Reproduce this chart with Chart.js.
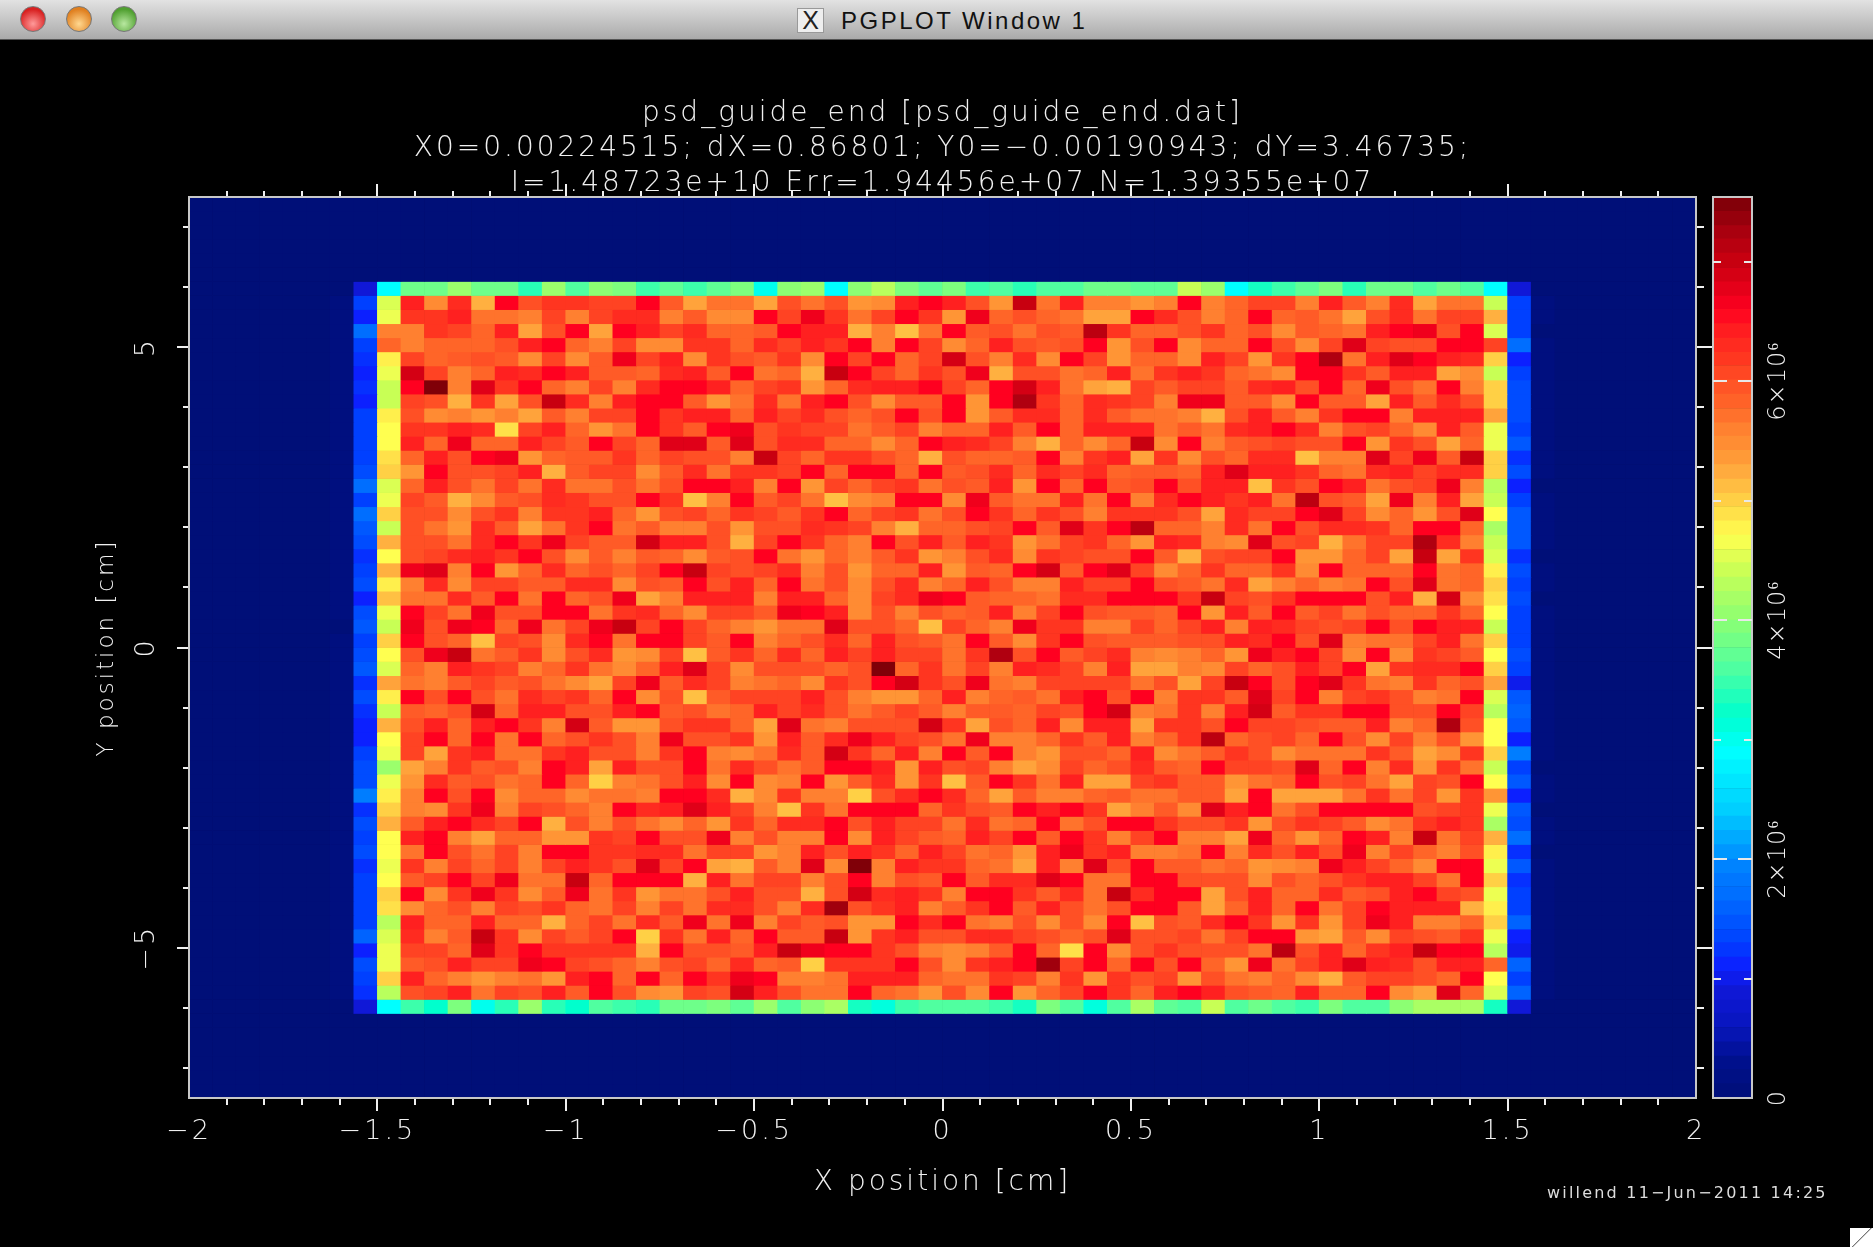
<!DOCTYPE html>
<html>
<head>
<meta charset="utf-8">
<title>PGPLOT Window 1</title>
<script src="https://cdn.jsdelivr.net/npm/chart.js@4"></script>
<style>
html, body { margin: 0; padding: 0; background: #000; }
#page { position: relative; width: 1873px; height: 1247px; overflow: hidden; background: #000; }
canvas { position: absolute; top: 0; }
#titlebar { position: absolute; left: 0; top: 0; width: 1873px; height: 39px; border-bottom: 1px solid #555;
    background: linear-gradient(#e2e2e2, #aaaaaa); }
.light { position: absolute; top: 6px; width: 26px; height: 26px; border-radius: 13px; box-sizing: border-box; border: 1px solid #777; }
#wintitle { position: absolute; left: 841px; top: 7px; font: 24px "Liberation Sans"; letter-spacing: 2.5px; color: #111; white-space: nowrap; }
#xicon { position: absolute; left: 797px; top: 8px; width: 27px; height: 25px; background: #eee; border: 1px solid #999; box-sizing: border-box;
    font: 25px/23px "Liberation Sans"; text-align: center; color: #222; }
#stamp { position: absolute; left: 1547px; top: 1183px; font: 16px "DejaVu Sans"; letter-spacing: 2.2px; color: #ddd; white-space: nowrap; }
#grip { position: absolute; left: 1850px; top: 1228px; width: 23px; height: 19px;
    background: linear-gradient(135deg, #fff 48%, #777 50%, #fff 54%); }
</style>
</head>
<body>
<div id="page">
    <canvas id="graph" style="left:0" width="1873" height="1247"></canvas>
    <canvas id="colorbar" style="left:1700px" width="173" height="1247"></canvas>
    <div id="titlebar">
        <div class="light" style="left:20px;background:radial-gradient(circle at 50% 70%,#ff9a9a,#d82020 70%)"></div>
        <div class="light" style="left:66px;background:radial-gradient(circle at 50% 70%,#ffd890,#e08020 70%)"></div>
        <div class="light" style="left:111px;background:radial-gradient(circle at 50% 70%,#b8e8a0,#50a030 70%)"></div>
        <div id="xicon">X</div>
        <div id="wintitle">PGPLOT Window 1</div>
    </div>
    <div id="stamp">willend 11−Jun−2011 14:25</div>
    <div id="grip"></div>
</div>
<script>
// Title lines
var titleLines = [
    'psd_guide_end [psd_guide_end.dat]',
    'X0=0.00224515; dX=0.86801; Y0=−0.00190943; dY=3.46735;',
    'I=1.48723e+10 Err=1.94456e+07 N=1.39355e+07'
];
var xLabel = 'X position [cm]';
var yLabel = 'Y position [cm]';
var colorbarLabels = { 0: '0', 20: '2×10⁶', 40: '4×10⁶', 60: '6×10⁶' };
var yTickValues = [-7, -6, -5, -4, -3, -2, -1, 0, 1, 2, 3, 4, 5, 6, 7];

// Histogram frame: 64 x 64 bins
var xRange = [-2, 2];
var yRange = [-7.5, 7.5];
var binCount = 64;
var firstFilledBin = 6;

// Intensity per bin, in units of 10^5.
// One list per row from the top, columns 6 to 57 of the 64.
var row06 = [0,9,29, 38,38,41,38,38,34,41,36,40,39,35,37,35,37,39,30, 40,41,29,40,43,39,37,39,35,36,34,36,36,38,38,37, 37,44,41,29,33,35,37,39,34,38,38,36,38,36, 29,9,0];
var row07 = [1,13,45, 64,55,63,52,66,60,62,62,61,61,66,59,53,57,57,53, 60,57,60,54,55,64,66,64,60,54,70,57,64,56,56,54, 56,66,56,58,61,61,56,64,59,56,63,53,57,57, 44,13,1];
var row08 = [1,11,46, 62,62,64,57,57,56,61,56,61,63,63,56,59,55,55,66, 61,67,62,57,61,66,62,54,67,58,60,58,57,53,53,66, 63,60,56,58,66,58,59,57,53,60,63,57,61,61, 52,13,1];
var row09 = [1,17,56, 56,62,61,58,64,53,60,66,53,66,64,61,63,58,58,59, 66,64,64,52,56,51,57,66,59,60,57,60,59,71,62,58, 58,60,62,58,60,55,59,58,57,64,66,67,60,66, 45,13,0];
var row10 = [1,13,58, 56,58,58,58,60,64,66,58,56,61,55,55,62,62,58,63, 61,64,62,66,56,66,61,55,58,64,60,59,60,66,54,60, 66,55,58,58,66,60,55,61,68,61,60,60,66,66, 61,17,1];
var row11 = [1,12,48, 61,58,59,60,59,55,61,55,59,67,61,64,55,62,60,59, 62,55,66,61,66,58,61,69,60,56,63,55,66,61,54,58, 58,55,64,61,54,62,66,72,57,64,68,66,64,63, 50,11,1];
var row12 = [1,11,46, 69,61,56,58,64,63,66,64,59,59,58,63,64,59,66,57, 58,52,70,66,61,58,62,60,67,52,60,60,57,58,64,57, 62,64,62,58,57,55,66,66,62,59,64,64,53,55, 44,13,1];
var row13 = [1,12,44, 66,75,56,68,62,66,58,56,61,56,63,66,66,64,58,61, 62,54,58,63,64,64,66,61,58,66,69,64,57,53,52,61, 59,61,61,59,63,64,60,66,58,67,60,57,66,56, 50,14,1];
var row14 = [1,11,44, 61,60,52,62,53,60,70,63,56,64,66,66,59,54,57,63, 57,64,66,60,55,59,59,66,54,66,72,62,58,63,62,61, 56,67,67,59,59,55,66,59,59,53,64,59,63,60, 50,14,1];
var row15 = [1,13,48, 60,55,56,54,56,53,59,56,61,61,66,62,64,64,58,64, 61,63,60,58,60,66,60,66,54,59,63,63,58,63,59,57, 57,56,52,60,64,59,56,62,66,66,56,64,64,64, 53,14,1];
var row16 = [1,13,47, 62,62,64,63,49,61,64,58,54,57,66,62,59,66,67,60, 62,61,61,57,59,61,56,58,58,64,59,66,58,64,64,64, 57,59,57,63,64,66,63,56,60,61,58,55,64,59, 46,13,1];
var row17 = [1,13,47, 64,58,67,58,58,64,61,59,66,61,58,68,68,59,68,60, 63,63,58,58,55,58,66,64,63,61,56,52,58,55,58,70, 55,66,56,59,60,61,60,60,66,54,62,60,53,58, 46,15,1];
var row18 = [1,13,49, 58,64,60,66,67,54,58,59,59,62,58,61,60,60,56,70, 61,58,62,62,60,58,52,60,58,58,59,66,56,62,64,53, 62,55,60,58,63,63,51,56,56,68,61,67,59,70, 50,12,1];
var row19 = [1,14,50, 54,66,60,60,61,64,52,59,61,61,55,59,63,57,62,62, 61,66,58,66,66,58,66,59,60,63,58,63,61,63,58,59, 59,58,64,68,64,64,62,58,57,63,64,61,63,63, 50,14,1];
var row20 = [1,17,45, 58,64,60,57,61,57,63,57,57,60,57,60,66,66,64,56, 66,54,61,58,61,62,57,60,59,64,54,66,58,66,59,60, 66,60,64,64,51,62,60,66,64,57,60,61,67,56, 43,11,0];
var row21 = [1,13,46, 61,59,52,55,59,60,63,62,60,60,66,62,51,56,66,59, 61,57,51,55,56,66,66,55,67,59,57,57,64,57,66,56, 63,66,64,62,64,57,71,60,59,53,67,56,64,53, 44,13,1];
var row22 = [1,17,50, 60,60,55,60,62,56,62,62,64,58,54,60,61,58,62,61, 59,62,66,58,61,62,57,60,66,62,58,62,60,56,62,62, 62,60,53,63,61,61,66,68,61,55,58,54,60,68, 47,15,1];
var row23 = [1,15,44, 60,57,54,63,59,53,57,62,66,57,59,56,56,60,54,60, 60,63,62,61,56,52,58,58,60,61,66,59,68,62,66,71, 58,58,56,63,57,66,60,63,63,62,58,66,66,58, 42,15,1];
var row24 = [1,14,52, 60,60,57,63,66,62,67,61,59,59,69,64,64,60,52,61, 66,62,58,56,66,60,64,59,64,62,54,57,61,62,58,54, 64,63,56,55,68,60,61,52,57,61,61,72,63,56, 44,15,1];
var row25 = [1,12,47, 60,61,63,64,62,66,60,55,59,56,59,58,55,59,60,66, 57,54,58,56,59,62,54,56,60,63,55,62,61,60,60,66, 59,52,60,61,61,66,54,54,58,61,53,70,53,62, 45,12,0];
var row26 = [1,13,52, 67,68,56,66,54,58,63,58,60,58,61,66,70,61,60,61, 63,56,60,54,58,58,64,54,59,58,66,69,59,66,68,61, 55,58,62,58,58,62,55,66,58,58,58,66,57,58, 48,14,1];
var row27 = [1,14,48, 56,63,55,61,61,59,59,63,63,55,60,59,66,60,64,58, 66,57,60,55,60,63,56,58,64,60,56,56,64,61,61,66, 60,59,57,63,53,56,58,56,57,66,60,68,57,58, 50,13,1];
var row28 = [1,11,51, 57,57,63,59,66,57,66,58,60,67,53,56,64,64,64,56, 64,64,58,55,61,63,67,66,59,58,58,57,63,63,66,66, 66,62,70,61,60,62,66,66,66,60,64,52,69,55, 49,14,0];
var row29 = [1,14,46, 66,61,57,67,60,60,66,66,57,62,63,58,55,61,61,59, 67,66,64,55,60,56,60,58,59,64,56,61,66,60,59,59, 58,66,54,64,59,66,59,61,57,60,58,58,62,58, 47,13,1];
var row30 = [0,15,44, 67,60,67,66,58,67,57,61,67,70,61,66,61,58,56,54, 57,57,68,60,60,58,51,61,58,56,67,62,62,56,56,61, 58,61,64,56,64,63,61,60,61,66,60,66,64,64, 44,13,1];
var row31 = [1,13,50, 66,60,58,51,61,60,55,63,66,57,66,66,61,59,66,56, 58,60,63,58,64,60,59,57,66,59,55,62,66,60,59,59, 59,60,60,64,63,66,60,68,56,57,57,61,64,57, 50,13,1];
var row32 = [1,14,47, 60,67,70,57,59,62,55,60,63,54,55,61,51,59,62,58, 63,58,64,61,64,61,61,57,62,72,60,66,59,61,63,56, 55,56,58,54,67,64,66,61,55,66,55,62,61,59, 47,14,1];
var row33 = [1,15,45, 58,56,64,62,61,56,58,62,57,55,58,64,68,61,55,60, 60,60,58,60,75,58,62,57,61,56,64,63,61,56,64,53, 53,56,55,61,58,60,64,61,66,53,62,63,63,66, 50,13,1];
var row34 = [1,12,53, 57,56,59,61,59,60,57,55,53,61,67,59,63,61,56,57, 58,55,62,60,66,69,62,60,67,57,56,61,61,61,61,57, 60,53,61,70,66,60,66,68,62,57,56,62,58,60, 53,10,1];
var row35 = [1,14,48, 66,60,66,60,57,63,61,62,58,66,55,60,51,59,61,61, 61,64,60,56,54,54,58,64,56,58,59,57,64,66,60,66, 56,62,62,59,68,61,66,56,61,62,60,56,57,66, 45,15,1];
var row36 = [1,12,44, 59,58,60,69,58,64,64,60,60,64,66,59,60,57,58,64, 61,63,60,57,59,61,59,56,59,59,58,61,60,66,69,56, 57,62,56,64,69,59,62,62,66,66,60,60,66,61, 43,16,1];
var row37 = [1,11,52, 60,64,58,64,66,62,56,69,59,54,54,60,62,62,58,53, 68,57,56,60,60,60,69,62,53,60,58,64,55,64,64,53, 62,62,60,66,61,61,60,59,59,64,56,58,72,60, 47,15,1];
var row38 = [1,11,47, 61,66,58,66,57,66,58,60,62,60,56,67,60,60,62,54, 64,59,63,67,64,61,60,57,67,56,56,58,62,59,64,56, 58,62,71,58,60,61,58,66,60,55,61,56,60,54, 47,11,1];
var row39 = [1,13,46, 61,53,62,64,57,57,62,64,60,60,56,62,66,56,55,57, 63,59,69,62,58,64,56,66,59,66,56,54,60,60,58,64, 55,57,59,62,60,55,57,57,57,62,59,53,55,62, 50,19,1];
var row40 = [1,14,41, 53,56,62,59,60,56,66,64,53,64,60,60,66,57,63,60, 57,59,66,66,64,54,64,60,61,56,53,55,61,58,60,63, 59,58,66,61,61,60,68,58,66,56,63,54,62,57, 44,13,0];
var row41 = [1,14,46, 54,63,59,60,57,58,66,58,50,56,57,60,64,55,66,55, 56,66,54,59,63,54,62,51,59,66,62,57,64,53,53,61, 62,59,59,54,57,58,66,60,61,57,53,61,60,66, 47,15,1];
var row42 = [1,19,48, 56,66,60,66,55,58,58,55,57,57,56,66,66,63,52,55, 62,56,56,50,60,63,66,63,58,53,59,56,56,58,59,57, 57,59,59,53,66,53,53,53,57,62,57,61,54,62, 54,11,1];
var row43 = [1,12,50, 56,55,62,67,56,61,60,58,56,66,63,64,68,64,61,56, 51,62,57,66,66,66,58,62,60,59,66,64,66,62,53,56, 59,55,68,64,66,57,60,66,66,66,66,60,61,62, 46,15,0];
var row44 = [1,14,52, 59,64,66,63,61,66,52,60,56,60,57,55,58,54,62,58, 63,63,66,60,64,61,61,57,63,57,58,66,57,60,66,66, 62,60,60,62,54,60,62,61,59,55,57,62,64,62, 42,14,1];
var row45 = [1,13,47, 64,66,56,53,58,58,54,54,62,61,66,60,60,67,56,60, 56,56,66,55,64,61,59,58,64,61,66,59,66,62,56,61, 66,56,56,53,67,58,54,58,66,64,56,70,57,61, 52,17,1];
var row46 = [1,14,47, 57,66,60,57,61,56,66,66,62,62,63,63,57,61,61,54, 56,64,60,64,62,58,64,61,57,58,54,64,67,62,64,56, 56,57,66,56,63,60,64,60,67,56,61,58,56,60, 48,12,0];
var row47 = [1,12,46, 62,56,61,58,61,56,61,64,62,60,68,61,66,53,52,59, 56,68,55,75,56,64,62,62,58,57,53,64,56,68,60,66, 59,59,57,58,54,55,56,67,64,61,58,55,66,66, 46,15,1];
var row48 = [1,13,47, 59,61,66,61,67,57,57,70,58,66,66,66,52,64,57,61, 61,56,60,66,56,60,59,66,59,63,63,68,66,57,57,66, 66,60,60,60,55,60,58,60,62,64,64,61,57,66, 50,12,1];
var row49 = [1,13,50, 66,55,62,67,62,55,59,67,57,62,54,57,57,60,64,60, 60,52,60,69,63,64,62,56,66,66,62,59,63,57,70,63, 66,66,53,60,64,58,58,63,59,60,64,66,61,60, 46,13,1];
var row50 = [1,13,49, 55,58,60,56,61,60,62,58,57,61,56,61,57,63,63,60, 56,63,73,60,62,64,56,59,62,66,59,64,60,57,60,66, 66,59,53,58,64,58,66,57,61,66,64,64,64,52, 48,13,1];
var row51 = [1,13,43, 64,58,58,64,58,58,52,58,61,57,63,59,67,57,67,56, 61,59,60,54,54,66,63,66,57,56,60,55,60,55,66,51, 60,59,63,66,62,54,62,54,61,67,64,56,56,58, 50,16,1];
var row52 = [1,16,45, 63,56,59,70,62,55,61,59,61,66,50,62,57,64,58,66, 59,59,70,54,62,64,60,60,63,63,61,60,58,60,68,60, 60,61,57,61,66,66,54,53,59,55,61,60,59,62, 46,11,1];
var row53 = [1,11,46, 61,61,58,68,62,66,62,62,62,62,52,66,60,60,59,64, 70,67,66,66,62,60,56,55,56,59,66,58,49,66,55,60, 62,60,60,60,57,71,60,64,58,62,64,70,66,66, 43,10,1];
var row54 = [1,14,46, 59,60,64,61,61,67,66,61,60,58,56,60,61,58,63,58, 59,50,62,62,62,66,60,55,62,64,66,73,61,66,58,66, 60,66,58,54,67,57,61,64,68,64,63,60,64,64, 58,16,1];
var row55 = [1,13,50, 64,58,56,54,56,57,54,64,66,58,66,58,66,62,67,66, 56,56,57,64,64,64,58,57,57,62,61,56,62,54,62,60, 61,54,60,57,56,58,55,52,59,61,61,60,58,66, 47,13,1];
var row56 = [1,12,43, 60,61,64,57,61,60,64,59,66,60,55,54,61,60,69,64, 60,57,57,66,58,57,54,60,55,66,54,58,61,66,62,58, 64,66,64,60,59,58,64,58,58,66,55,53,68,58, 45,16,1];
var row57 = [0,9,29, 35,32,39,30,34,41,34,32,36,35,34,38,38,39,37,41, 36,40,42,33,31,35,36,36,36,35,33,39,36,31,36,42, 37,36,44,36,38,36,35,39,36,36,40,42,42,42, 33,9,0];
var filledRows = [row06,row07,row08,row09,row10,row11,row12,row13,row14,row15,row16,row17,row18,row19,row20,row21,row22,row23,row24,row25,row26,row27,row28,row29,row30,row31,row32,row33,row34,row35,row36,row37,row38,row39,row40,row41,row42,row43,row44,row45,row46,row47,row48,row49,row50,row51,row52,row53,row54,row55,row56,row57];

// Colour bar bands, same units
var bandEdges = [0,1.2,2.4,3.5,4.7,5.9,7.1,8.2,9.4,10.6,11.8,13,14.1,15.3,16.5,17.7,18.8,20,21.2,22.4,23.6,24.7,25.9,27.1,28.3,29.4,30.6,31.8,33,34.2,35.3,36.5,37.7,38.9,40,41.2,42.4,43.6,44.8,45.9,47.1,48.3,49.5,50.6,51.8,53,54.2,55.4,56.5,57.7,58.9,60.1,61.3,62.4,63.6,64.8,66,67.1,68.3,69.5,70.7,71.9,73,74.2,75.4];

// Colour table
var colorValues = [0,3,6,9,11,13,15,17,19,24,29,32,36,40,44,47,50,52,54,56,58,60,62,64,66,68,70,72,75];
var colorTable = [[0,15,120],[0,16,140],[8,22,190],[16,24,215],[12,32,255],[0,64,255],[0,88,255],[0,110,255],[0,125,255],[0,205,255],[0,255,255],[0,255,205],[80,255,160],[140,255,115],[200,255,85],[255,255,80],[255,208,69],[255,176,64],[255,149,53],[255,128,48],[255,101,40],[255,80,37],[255,53,32],[255,32,32],[255,0,32],[224,0,24],[200,0,16],[176,0,16],[128,0,8]];

var inkColor = '#f0f0f0';
var frameColor = '#c8c8c8';
var textFont = 'DejaVu Sans';

function colorOf(v) {
    var i = 0;
    while (i < colorValues.length - 2 && v > colorValues[i + 1]) i++;
    var t = (v - colorValues[i]) / (colorValues[i + 1] - colorValues[i]);
    t = Math.min(1, Math.max(0, t));
    var a = colorTable[i], b = colorTable[i + 1];
    return 'rgb(' + Math.round(a[0] + (b[0] - a[0]) * t) + ',' + Math.round(a[1] + (b[1] - a[1]) * t) + ',' + Math.round(a[2] + (b[2] - a[2]) * t) + ')';
}

function binValue(row, col) {
    var r = filledRows[row - firstFilledBin];
    if (!r) return 0;
    var v = r[col - firstFilledBin];
    return v === undefined ? 0 : v;
}

// Frame round the plot area
var framePlugin = {
    id: 'frame',
    afterDatasetsDraw: function (chart) {
        var a = chart.chartArea, ctx = chart.ctx;
        ctx.save();
        ctx.strokeStyle = frameColor;
        ctx.lineWidth = 2;
        ctx.strokeRect(a.left, a.top, a.right - a.left, a.bottom - a.top);
        ctx.restore();
    }
};
// Wide lettering like the plot's vector font
function spacingPlugin(px) {
    return {
        id: 'spacing',
        beforeDraw: function (chart) {
            chart.ctx.letterSpacing = px;
        }
    };
}

function isMajor(value, step) {
    return Math.abs(value / step - Math.round(value / step)) < 1e-6;
}

// Short minor ticks: top and left tick lines start at the outer end
function tickDash(step, minorLength, gap) {
    return function (c) {
        if (!c.tick || isMajor(c.tick.value, step)) return [];
        return gap > 0 ? [0, gap, minorLength, 100] : [minorLength, 100];
    };
}

function tickAxis(position, min, max, step, major, length, minorLength, gap, extra) {
    var axis = {
        type: 'linear',
        position: position,
        min: min,
        max: max,
        offset: false,
        border: { color: frameColor, width: 2 },
        grid: {
            offset: false,
            lineWidth: 0,
            drawOnChartArea: false,
            drawTicks: true,
            tickLength: length,
            tickColor: function (c) {
                return c.tick && (c.tick.value === min || c.tick.value === max) ? 'transparent' : inkColor;
            },
            tickWidth: 2,
            tickBorderDash: tickDash(major, minorLength, gap)
        },
        ticks: {
            display: false,
            stepSize: step,
            includeBounds: false,
            autoSkip: false,
            maxTicksLimit: 100
        }
    };
    return Object.assign(axis, extra);
}

function useYTicks(scale) {
    scale.ticks = yTickValues.map(function (v) { return { value: v }; });
}

var columns = [];
for (var c = 0; c < binCount; c++) columns.push(c);

var datasets = [];
var rowHeight = (yRange[1] - yRange[0]) / binCount;
for (var r = 0; r < binCount; r++) {
    var cells = [], colors = [];
    for (var k = 0; k < binCount; k++) {
        cells.push([yRange[1] - (r + 1) * rowHeight, yRange[1] - r * rowHeight]);
        colors.push(colorOf(binValue(r, k)));
    }
    datasets.push({
        data: cells,
        backgroundColor: colors,
        xAxisID: 'cols',
        yAxisID: 'y',
        grouped: false,
        barPercentage: 1,
        categoryPercentage: 1
    });
}

var labelFont = { family: textFont, size: 27, weight: '200' };

new Chart(document.getElementById('graph'), {
    type: 'bar',
    data: { labels: columns, datasets: datasets },
    plugins: [spacingPlugin('3px'), framePlugin],
    options: {
        responsive: false,
        animation: false,
        events: [],
        layout: { padding: { right: 177 } },
        plugins: {
            legend: { display: false },
            tooltip: { enabled: false },
            title: {
                display: true,
                fullSize: false,
                text: titleLines,
                color: inkColor,
                font: { family: textFont, size: 28, weight: '200', lineHeight: 1.25 },
                padding: { top: 96, bottom: -5 }
            }
        },
        scales: {
            cols: { type: 'category', axis: 'x', display: false, offset: true },
            x: tickAxis('bottom', xRange[0], xRange[1], 0.1, 0.5, 13, 6, 0, {
                afterFit: function (s) { s.height = 149; },
                ticks: {
                    stepSize: 0.1,
                    includeBounds: false,
                    autoSkip: false,
                    maxRotation: 0,
                    maxTicksLimit: 100,
                    color: inkColor,
                    font: labelFont,
                    padding: 5,
                    callback: function (v) {
                        return isMajor(v, 0.5) ? String(Math.round(v * 2) / 2).replace('-', '−') : '';
                    }
                },
                title: { display: true, text: xLabel, color: inkColor, font: { family: textFont, size: 28, weight: '200' }, padding: { bottom: 47 } }
            }),
            xTop: tickAxis('top', xRange[0], xRange[1], 0.1, 0.5, 13, 6, 7, {
                axis: 'x',
                afterFit: function (s) { s.height = 1; }
            }),
            y: tickAxis('left', yRange[0], yRange[1], 1, 5, 12, 6, 6, {
                afterFit: function (s) { s.width = 189; },
                afterBuildTicks: useYTicks,
                ticks: {
                    includeBounds: false,
                    autoSkip: false,
                    minRotation: 90,
                    maxRotation: 90,
                    crossAlign: 'center',
                    color: inkColor,
                    font: labelFont,
                    padding: 10,
                    callback: function (v) {
                        return isMajor(v, 5) ? String(v).replace('-', '−') : '';
                    }
                },
                title: { display: true, text: yLabel, color: inkColor, font: { family: textFont, size: 23, weight: '200' }, padding: { top: 93, bottom: 0 } }
            }),
            yRight: tickAxis('right', yRange[0], yRange[1], 1, 5, 17, 7, 0, {
                axis: 'y',
                afterBuildTicks: useYTicks,
                afterFit: function (s) { s.width = 0; }
            })
        }
    }
});

// Colour bar
var bandSets = [];
for (var b = 0; b < bandEdges.length - 1; b++) {
    bandSets.push({
        data: [[bandEdges[b], bandEdges[b + 1]]],
        backgroundColor: colorOf((bandEdges[b] + bandEdges[b + 1]) / 2),
        grouped: false,
        barPercentage: 1,
        categoryPercentage: 1
    });
}

new Chart(document.getElementById('colorbar'), {
    type: 'bar',
    data: { labels: ['scale'], datasets: bandSets },
    plugins: [spacingPlugin('1px'), framePlugin],
    options: {
        responsive: false,
        animation: false,
        events: [],
        layout: { padding: { left: 13, top: 197, bottom: 149 } },
        plugins: { legend: { display: false }, tooltip: { enabled: false } },
        scales: {
            x: { type: 'category', display: false, offset: true },
            y: {
                type: 'linear',
                position: 'right',
                min: bandEdges[0],
                max: bandEdges[bandEdges.length - 1],
                afterFit: function (s) { s.width = 121; },
                border: {
                    display: false,
                    dash: function (c) {
                        return c.tick && isMajor(c.tick.value, 20) ? [14, 11, 14] : [8, 23, 8];
                    }
                },
                grid: { z: 1, color: function (c) { return c.tick && c.tick.value > 0 ? '#e8e8e8' : 'transparent'; }, lineWidth: 2, drawTicks: false },
                ticks: {
                    stepSize: 10,
                    includeBounds: false,
                    autoSkip: false,
                    minRotation: 90,
                    maxRotation: 90,
                    crossAlign: 'center',
                    color: inkColor,
                    font: { family: textFont, size: 24, weight: '200' },
                    padding: -10,
                    callback: function (v) { return colorbarLabels[v] || ''; }
                }
            }
        }
    }
});
</script>
</body>
</html>
